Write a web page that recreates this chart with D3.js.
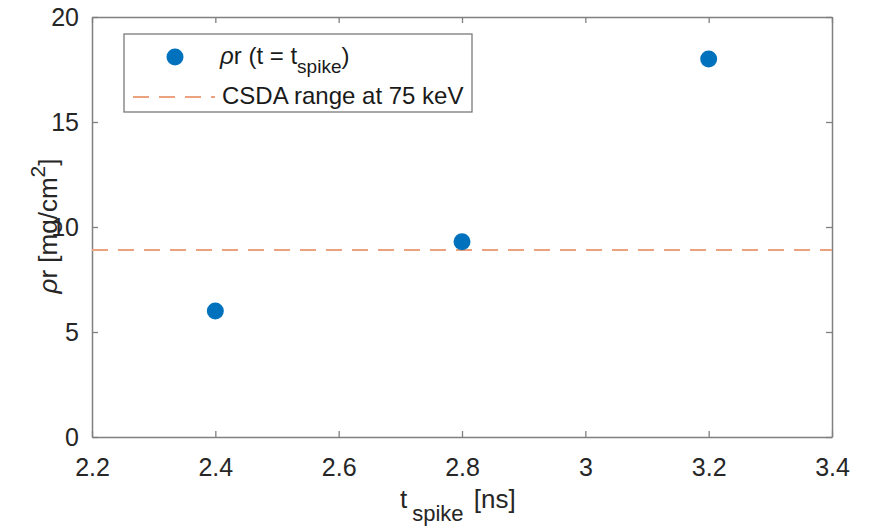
<!DOCTYPE html>
<html>
<head>
<meta charset="utf-8">
<script src="https://cdn.jsdelivr.net/npm/d3@7"></script>
<style>
  body { margin: 0; background: #fff; }
  text { font-family: "Liberation Sans", Arial, sans-serif; }
</style>
</head>
<body>
<svg id="chart" width="870" height="529"></svg>
<script>
// data
const tSpike = [2.4, 2.8, 3.2];
const rhoR = [6.0, 9.3, 18.0];
const csdaRange = 8.9;
const xTicks = [2.2, 2.4, 2.6, 2.8, 3.0, 3.2, 3.4];
const yTicks = [0, 5, 10, 15, 20];

const W = 870, H = 529;
const m = { left: 92, right: 38, top: 17, bottom: 92 };
const svg = d3.select('#chart');

const x = d3.scaleLinear().domain([2.2, 3.4]).range([m.left, W - m.right]);
const y = d3.scaleLinear().domain([0, 20]).range([H - m.bottom, m.top]);

const axisColor = '#808080';
const textColor = '#262626';

// axes (box on, ticks inward on all four sides)
function styleAxis(g) {
  g.select('.domain').attr('stroke', axisColor).attr('stroke-width', 1.5);
  g.selectAll('.tick line').attr('stroke', axisColor).attr('stroke-width', 1.3);
  g.selectAll('.tick text').attr('fill', textColor).attr('font-size', 25)
    .attr('font-family', '"Liberation Sans", Arial, sans-serif');
}

svg.append('g')
   .attr('transform', `translate(0, ${H - m.bottom})`)
   .call(d3.axisBottom(x).tickValues(xTicks).tickFormat(d3.format('~g')).tickSizeInner(-6).tickSizeOuter(0).tickPadding(21))
   .call(styleAxis);

svg.append('g')
   .attr('transform', `translate(0, ${m.top})`)
   .call(d3.axisTop(x).tickValues(xTicks).tickFormat('').tickSizeInner(-6).tickSizeOuter(0))
   .call(styleAxis);

svg.append('g')
   .attr('transform', `translate(${m.left}, 0)`)
   .call(d3.axisLeft(y).tickValues(yTicks).tickSizeInner(-6).tickSizeOuter(0).tickPadding(13))
   .call(styleAxis);

svg.append('g')
   .attr('transform', `translate(${W - m.right}, 0)`)
   .call(d3.axisRight(y).tickValues(yTicks).tickFormat('').tickSizeInner(-6).tickSizeOuter(0))
   .call(styleAxis);

// CSDA range line
svg.append('line')
   .attr('x1', x(2.2)).attr('x2', x(3.4))
   .attr('y1', y(csdaRange)).attr('y2', y(csdaRange))
   .attr('stroke', '#eca27f').attr('stroke-width', 2)
   .attr('stroke-dasharray', '16,10');

// points
svg.selectAll('.pt')
   .data(tSpike.map((t, i) => ({ t, r: rhoR[i] })))
   .enter()
   .append('circle')
   .classed('pt', true)
   .attr('cx', d => x(d.t))
   .attr('cy', d => y(d.r))
   .attr('r', 8.5)
   .attr('fill', '#0072bd');

// axis labels
const xl = svg.append('text')
   .attr('x', 400).attr('y', 508)
   .attr('font-size', 26).attr('fill', textColor);
xl.append('tspan').text('t');
xl.append('tspan').attr('font-size', 22).attr('dx', 5).attr('dy', 13).text('spike');
xl.append('tspan').attr('dx', 3).attr('dy', -13).text(' [ns]');

const yl = svg.append('text')
   .attr('transform', 'translate(57, 226) rotate(-90)')
   .attr('text-anchor', 'middle')
   .attr('font-size', 26).attr('fill', textColor);
yl.append('tspan').attr('font-style', 'italic').text('ρ');
yl.append('tspan').text('r [mg/cm');
yl.append('tspan').attr('font-size', 21).attr('dy', -12).text('2');
yl.append('tspan').attr('dy', 12).text(']');

// legend
const lg = svg.append('g');
lg.append('rect')
  .attr('x', 124).attr('y', 34).attr('width', 348).attr('height', 78)
  .attr('fill', '#fff').attr('stroke', '#7a7a7a').attr('stroke-width', 1.3);
lg.append('circle').attr('cx', 175).attr('cy', 57).attr('r', 8.5).attr('fill', '#0072bd');
const l1 = lg.append('text').attr('x', 220).attr('y', 64).attr('font-size', 24).attr('fill', '#1a1a1a');
l1.append('tspan').attr('font-style', 'italic').text('ρ');
l1.append('tspan').text('r (t = t');
l1.append('tspan').attr('font-size', 19).attr('dy', 9).text('spike');
l1.append('tspan').attr('dy', -9).text(')');
lg.append('line')
  .attr('x1', 133).attr('x2', 215).attr('y1', 97).attr('y2', 97)
  .attr('stroke', '#eca27f').attr('stroke-width', 2).attr('stroke-dasharray', '16,10');
lg.append('text').attr('x', 222).attr('y', 104).attr('font-size', 24).attr('fill', '#1a1a1a')
  .text('CSDA range at 75 keV');
</script>
</body>
</html>
